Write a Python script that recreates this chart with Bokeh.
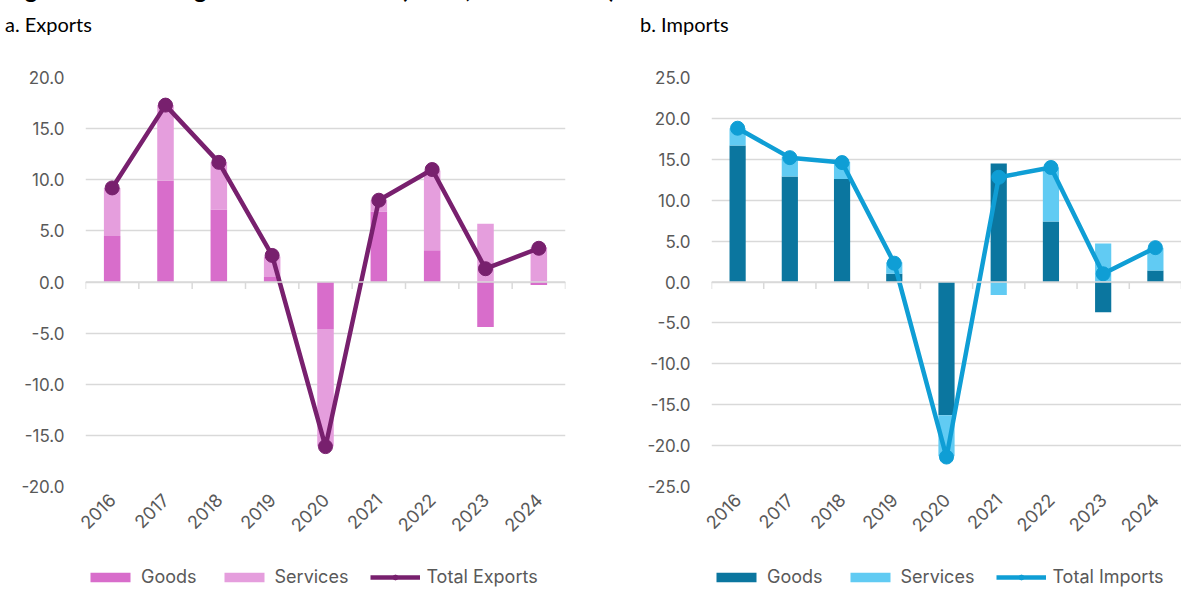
import math
from bokeh.plotting import figure
from bokeh.models import (Div, Range1d, FixedTicker, SingleIntervalTicker, Span,
                          NumeralTickFormatter, Legend, LegendItem, ColumnDataSource)
from bokeh.layouts import column, row
from bokeh.embed import file_html
from bokeh.resources import INLINE

years = ["2016", "2017", "2018", "2019", "2020", "2021", "2022", "2023", "2024"]

exp_goods = [4.5, 9.9, 7.1, 0.5, -4.6, 6.9, 3.1, -4.4, -0.3]
exp_services = [4.7, 7.4, 4.6, 2.0, -11.5, 1.1, 7.8, 5.7, 3.4]
exp_total = [9.2, 17.3, 11.7, 2.6, -16.1, 8.0, 11.0, 1.3, 3.3]

imp_goods = [16.7, 12.9, 12.6, 1.0, -16.3, 14.5, 7.4, -3.7, 1.4]
imp_services = [2.1, 2.4, 2.1, 1.4, -5.0, -1.6, 6.6, 4.7, 2.8]
imp_total = [18.8, 15.2, 14.6, 2.3, -21.4, 12.8, 14.0, 1.0, 4.2]

TXT = "#595959"
GRID = "#D9D9D9"
FONT = "Inter"

# category slots: each year occupies one unit of the x scale, centred on i + 0.5
xpos = [i + 0.5 for i in range(len(years))]
bounds = list(range(len(years) + 1))


def stack(goods, services):
    s_bot = [g if g * s > 0 else 0.0 for g, s in zip(goods, services)]
    s_top = [b + s for b, s in zip(s_bot, services)]
    return s_bot, s_top


def make_chart(goods, services, total, c_goods, c_serv, c_line,
               yr, width, border_left, border_right):
    s_bot, s_top = stack(goods, services)
    src = ColumnDataSource(dict(x=xpos, goods=goods, zero=[0.0] * len(years),
                                s_bot=s_bot, s_top=s_top, total=total))
    p = figure(x_range=Range1d(0, len(years)), y_range=Range1d(-yr, yr),
               width=width, height=509,
               output_backend="svg", toolbar_location=None,
               min_border_left=border_left, min_border_right=border_right,
               min_border_top=27, min_border_bottom=73)
    p.outline_line_color = None
    p.background_fill_color = "white"
    p.border_fill_color = "white"
    p.xgrid.grid_line_color = None
    p.ygrid.grid_line_color = GRID
    p.ygrid.grid_line_width = 1.4

    # zero line with tick marks between categories
    p.add_layout(Span(location=0, dimension="width", line_color=GRID, line_width=1.5))
    p.ray(x=bounds, y=[0.0] * len(bounds), length=7, length_units="screen",
          angle=-math.pi / 2, line_color=GRID, line_width=1.5)

    p.vbar(x="x", bottom="zero", top="goods", width=0.31, source=src,
           fill_color=c_goods, line_color=None)
    p.vbar(x="x", bottom="s_bot", top="s_top", width=0.31, source=src,
           fill_color=c_serv, line_color=None)
    p.line(x="x", y="total", source=src, line_color=c_line, line_width=4.5)
    p.scatter(x="x", y="total", source=src, size=14, fill_color=c_line,
              line_color=c_line)

    # y axis
    yax = p.yaxis[0]
    yax.ticker = SingleIntervalTicker(interval=5, num_minor_ticks=0)
    yax.formatter = NumeralTickFormatter(format="0.0")
    yax.axis_line_color = None
    yax.major_tick_line_color = None
    yax.major_tick_out = 0
    yax.major_tick_in = 0
    yax.minor_tick_line_color = None
    yax.major_label_standoff = 21
    yax.major_label_text_font = FONT
    yax.major_label_text_font_size = "17px"
    yax.major_label_text_color = TXT

    # bottom category labels
    xax = p.xaxis[0]
    xax.ticker = FixedTicker(ticks=xpos)
    xax.major_label_overrides = {x: y for x, y in zip(xpos, years)}
    xax.axis_line_color = None
    xax.major_tick_line_color = None
    xax.major_tick_out = 0
    xax.major_tick_in = 0
    xax.minor_tick_line_color = None
    xax.major_label_orientation = math.pi / 4
    xax.major_label_standoff = 10
    xax.major_label_text_font = FONT
    xax.major_label_text_font_size = "18px"
    xax.major_label_text_color = TXT
    return p, src


def make_legend(src, c_goods, c_serv, c_line, total_label, width):
    # legend strip: same glyph styles, data kept outside the visible y range
    lf = figure(x_range=Range1d(0, len(years)), y_range=Range1d(1000, 1001),
                width=width, height=30, x_axis_type=None, y_axis_type=None,
                output_backend="svg", toolbar_location=None, min_border=0)
    lf.outline_line_color = None
    lf.grid.visible = False
    r_g = lf.vbar(x="x", bottom="zero", top="goods", width=0.31, source=src,
                  fill_color=c_goods, line_color=None)
    r_s = lf.vbar(x="x", bottom="s_bot", top="s_top", width=0.31, source=src,
                  fill_color=c_serv, line_color=None)
    r_l = lf.line(x="x", y="total", source=src, line_color=c_line, line_width=4.5)
    r_m = lf.scatter(x="x", y="total", source=src, size=12, fill_color=c_line,
                     line_color=c_line)
    legend = Legend(items=[
        LegendItem(label="Goods", renderers=[r_g]),
        LegendItem(label="Services", renderers=[r_s]),
        LegendItem(label=total_label, renderers=[r_l, r_m]),
    ], orientation="horizontal", location=(0, 2))
    legend.label_text_font = FONT
    legend.label_text_font_size = "18px"
    legend.label_text_color = TXT
    legend.glyph_width = 50
    legend.glyph_height = 12
    legend.label_standoff = 6
    legend.spacing = 22
    legend.padding = 0
    legend.margin = 0
    legend.border_line_color = None
    legend.background_fill_color = None
    lf.add_layout(legend)
    return lf


p1, s1 = make_chart(exp_goods, exp_services, exp_total, "#D86DCB", "#E59EDD", "#78206E",
                    20, 605, 85, 40)
p2, s2 = make_chart(imp_goods, imp_services, imp_total, "#0B769F", "#61CBF3", "#0F9ED5",
                    25, 566, 96, 0)
l1 = make_legend(s1, "#D86DCB", "#E59EDD", "#78206E", "Total Exports", 605)
l2 = make_legend(s2, "#0B769F", "#61CBF3", "#0F9ED5", "Total Imports", 566)

main_title = "Figure 6: Trade in goods and services (Y-o-Y, contribution)"
title_html = ('<div style="position:absolute;left:0px;top:-29px;white-space:nowrap;'
              'font-family:Lato;font-weight:bold;font-size:24px;line-height:26px;'
              'color:#000000">' + main_title + '</div>')

sub_style = {"font-family": "Lato", "font-size": "20px", "color": "#000000",
             "line-height": "38px", "overflow": "visible"}
sub1 = Div(text=title_html + "a. Exports", width=605, height=40, styles=sub_style)
sub2 = Div(text="b. Imports", width=566, height=40,
           styles=dict(sub_style, **{"padding-left": "20px"}))

layout = row(column(sub1, p1, l1), column(sub2, p2, l2))

open("out.html", "w").write(file_html(layout, INLINE))
